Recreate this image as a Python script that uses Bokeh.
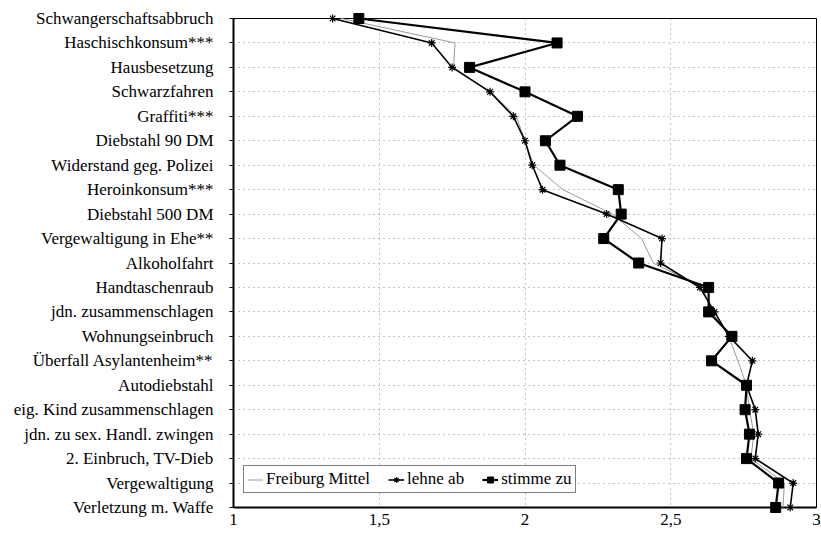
from bokeh.plotting import figure
from bokeh.models import (Range1d, FixedTicker, Legend, LegendItem)
from bokeh.embed import file_html
from bokeh.resources import INLINE

# Offences, top to bottom
categories = [
    "Schwangerschaftsabbruch", "Haschischkonsum***", "Hausbesetzung",
    "Schwarzfahren", "Graffiti***", "Diebstahl 90 DM",
    "Widerstand geg. Polizei", "Heroinkonsum***", "Diebstahl 500 DM",
    "Vergewaltigung in Ehe**", "Alkoholfahrt", "Handtaschenraub",
    "jdn. zusammenschlagen", "Wohnungseinbruch", "Überfall Asylantenheim**",
    "Autodiebstahl", "eig. Kind zusammenschlagen",
    "jdn. zu sex. Handl. zwingen", "2. Einbruch, TV-Dieb",
    "Vergewaltigung", "Verletzung m. Waffe",
]

# Mean ratings per group
freiburg_mittel = [1.37, 1.76, 1.755, 1.88, 1.97, 2.00, 2.03, 2.13, 2.30, 2.40,
                   2.44, 2.61, 2.64, 2.70, 2.73, 2.76, 2.77, 2.785, 2.775,
                   2.89, 2.885]
lehne_ab = [1.34, 1.68, 1.75, 1.88, 1.96, 2.00, 2.025, 2.06, 2.28, 2.47,
            2.465, 2.60, 2.65, 2.70, 2.78, 2.76, 2.79, 2.80, 2.79, 2.92, 2.91]
stimme_zu = [1.43, 2.11, 1.81, 2.00, 2.18, 2.07, 2.12, 2.32, 2.33, 2.27,
             2.39, 2.63, 2.63, 2.71, 2.64, 2.76, 2.755, 2.77, 2.76, 2.87, 2.86]

x_ticks = [1, 1.5, 2, 2.5, 3]
x_tick_labels = ["1", "1,5", "2", "2,5", "3"]

FONT = "Liberation Serif"
rows = list(range(len(categories)))

p = figure(width=821, height=535, output_backend="svg", toolbar_location=None,
           x_range=Range1d(1, 3), y_range=Range1d(len(categories) - 1, 0),
           min_border_left=233, min_border_right=5, min_border_top=18,
           min_border_bottom=28)

p.outline_line_color = "black"
p.outline_line_width = 1
p.background_fill_color = "white"
p.border_fill_color = "white"

# Axes
p.xaxis.ticker = FixedTicker(ticks=x_ticks)
p.xaxis.major_label_overrides = {t: s for t, s in zip(x_ticks, x_tick_labels)}
p.yaxis.ticker = FixedTicker(ticks=rows)
p.yaxis.major_label_overrides = {i: c for i, c in zip(rows, categories)}
for ax in (p.xaxis, p.yaxis):
    ax.axis_line_color = "black"
    ax.axis_line_width = 2
    ax.major_tick_line_color = "black"
    ax.major_tick_in = 0
    ax.minor_tick_line_color = None
    ax.major_label_text_font = FONT
    ax.major_label_text_font_size = "17px"
    ax.major_label_text_color = "black"
p.yaxis.major_tick_out = 4
p.yaxis.major_label_standoff = 16
p.xaxis.major_tick_out = 0
p.xaxis.major_label_standoff = 6

# Dotted grid
p.ygrid.grid_line_color = "#8a8a8a"
p.ygrid.grid_line_dash = "1 4"
p.ygrid.grid_line_width = 1
p.xgrid.ticker = FixedTicker(ticks=[1.5, 2, 2.5])
p.xgrid.grid_line_color = "#8a8a8a"
p.xgrid.grid_line_dash = "1 4"
p.xgrid.grid_line_width = 1

# Series
r_mittel = p.line(freiburg_mittel, rows, line_color="#9a9a9a", line_width=1,
                  level="overlay")
r_ab_line = p.line(lehne_ab, rows, line_color="black", line_width=1.6,
                   level="overlay")
r_ab_pts = p.scatter(lehne_ab, rows, marker="asterisk", size=8,
                     line_color="black", line_width=1.2, level="overlay")
r_zu_line = p.line(stimme_zu, rows, line_color="black", line_width=2.2,
                   level="overlay")
r_zu_pts = p.scatter(stimme_zu, rows, marker="square", size=10,
                     fill_color="black", line_color="black", level="overlay")

legend = Legend(items=[
    LegendItem(label="Freiburg Mittel", renderers=[r_mittel]),
    LegendItem(label="lehne ab", renderers=[r_ab_line, r_ab_pts]),
    LegendItem(label="stimme zu", renderers=[r_zu_line, r_zu_pts]),
], location=(10, 14), orientation="horizontal")
legend.label_text_font = FONT
legend.label_text_font_size = "17px"
legend.label_text_color = "black"
legend.border_line_color = "black"
legend.border_line_width = 1.5
legend.background_fill_color = "white"
legend.background_fill_alpha = 1
legend.padding = 3
legend.margin = 0
legend.spacing = 18
legend.label_standoff = 3
legend.glyph_width = 16
legend.glyph_height = 15
legend.label_height = 15
p.add_layout(legend, "center")

open("out.html", "w").write(file_html(p, INLINE))
